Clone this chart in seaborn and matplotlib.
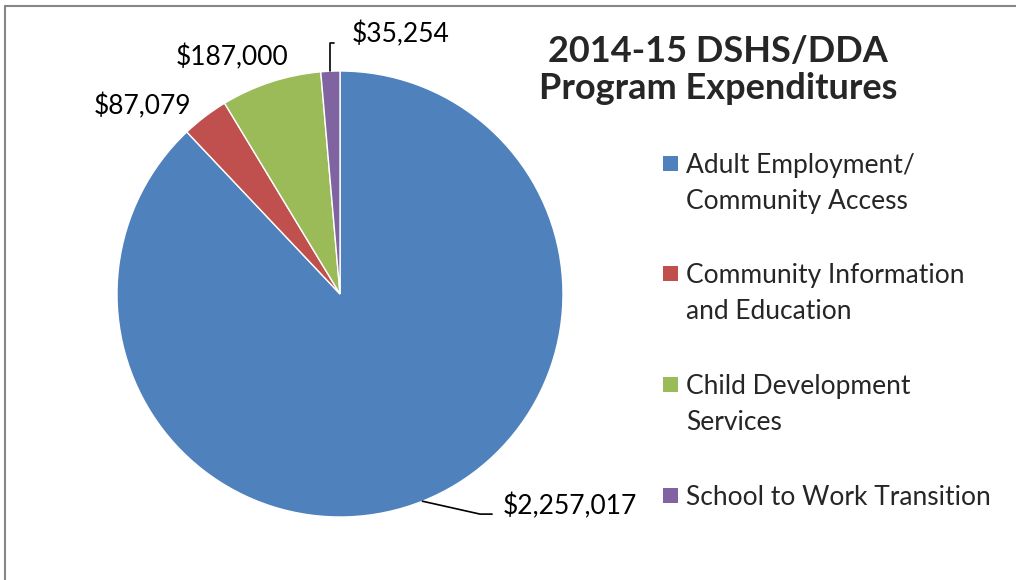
#!/usr/bin/env python3
"""2014-15 DSHS/DDA program expenditures pie chart."""

import numpy as np
import matplotlib
matplotlib.use("Agg")
import matplotlib.pyplot as plt
import seaborn as sns
from matplotlib.lines import Line2D
from matplotlib.patches import Rectangle

# Data
programs = [
    "Adult Employment/\nCommunity Access",
    "Community Information\nand Education",
    "Child Development\nServices",
    "School to Work Transition",
]
expenditures = [2257017, 87079, 187000, 35254]
value_labels = ["$2,257,017", "$87,079", "$187,000", "$35,254"]
title = "2014-15 DSHS/DDA\nProgram Expenditures"

colors = ["#4F81BD", "#C0504D", "#9BBB59", "#8064A2"]

W, H = 1016, 580

sns.set_theme(style="white")
plt.rcParams['font.family'] = ['Lato', 'DejaVu Sans']


def fig_xy(x, y):
    """Pixel position (from top-left) to figure fraction."""
    return x / W, 1 - y / H


fig = plt.figure(figsize=(W / 100, H / 100), dpi=100)
fig.patch.set_facecolor("white")

# Pie axes: centre (340, 294) px, radius 223 px
cx, cy, r = 340, 294, 223
ax = fig.add_axes([(cx - r) / W, (H - cy - r) / H, 2 * r / W, 2 * r / H])
wedges, _ = ax.pie(expenditures, colors=colors, startangle=90, counterclock=False,
                   wedgeprops=dict(edgecolor="white", linewidth=1.0))
ax.set_xlim(-1, 1)
ax.set_ylim(-1, 1)
ax.set_aspect("equal")
ax.axis("off")

# Data labels (text anchor in pie units, alignment, leader style)
label_layout = [
    dict(pos=(0.731, -0.951), ha="left", leader="elbow"),
    dict(pos=(-0.888, 0.843), ha="center", leader=None),
    dict(pos=(-0.484, 1.063), ha="center", leader=None),
    dict(pos=(0.054, 1.163), ha="left", leader="up"),
]
for w, text, lay in zip(wedges, value_labels, label_layout):
    ang = np.deg2rad((w.theta1 + w.theta2) / 2)
    ex, ey = np.cos(ang), np.sin(ang)
    tx, ty = lay["pos"]
    ax.text(tx, ty, text, ha=lay["ha"], va="center", fontsize=19,
            color="black", clip_on=False)
    if lay["leader"] == "elbow":
        ax.plot([ex, tx - 0.103, tx - 0.049], [ey, ty - 0.036, ty - 0.036],
                color="black", lw=1.2, clip_on=False)
    elif lay["leader"] == "up":
        ax.plot([ex, ex, ex + 0.018], [ey, ty - 0.037, ty - 0.037],
                color="black", lw=1.2, clip_on=False)

# Title
fig.text(*fig_xy(718, 70), title, ha="center", va="center", fontsize=26,
         fontweight="bold", linespacing=1.18)

# Legend, markers aligned with first line of each entry
legend_rows = [164, 274, 385, 496]
for name, color, row in zip(programs, colors, legend_rows):
    fig.add_artist(Rectangle(fig_xy(663, row + 7), 15 / W, 15 / H,
                             transform=fig.transFigure, facecolor=color,
                             edgecolor="none"))
    fig.text(*fig_xy(686, row - 11), name, ha="left", va="top", fontsize=19,
             linespacing=1.55)

# Chart border (left and top visible)
border = dict(color="#868686", lw=1.5, transform=fig.transFigure)
fig.add_artist(Line2D([5 / W, 5 / W], [0, 1 - 6 / H], **border))
fig.add_artist(Line2D([5 / W, 1], [1 - 6 / H, 1 - 6 / H], **border))

fig.savefig("out.png", dpi=100, facecolor="white")
